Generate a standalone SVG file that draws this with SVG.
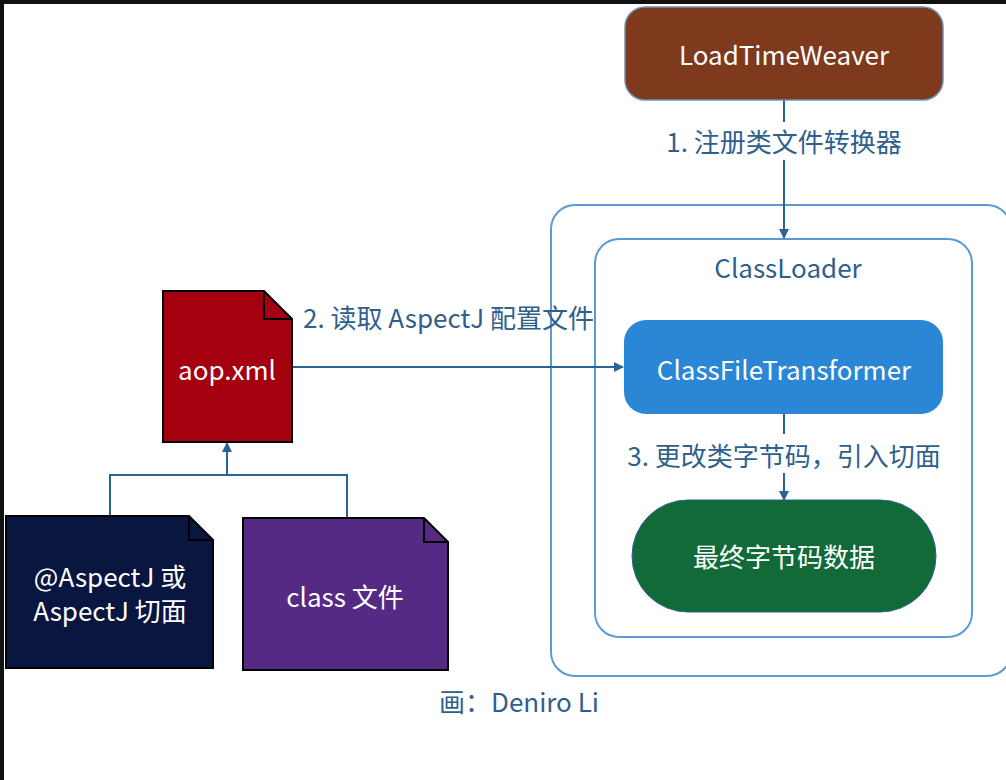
<svg xmlns="http://www.w3.org/2000/svg" width="1006" height="780" viewBox="0 0 1006 780">
<defs>
<marker id="ah" markerWidth="10" markerHeight="10" refX="9" refY="5" orient="auto" markerUnits="userSpaceOnUse">
<path d="M0,0 L10,5 L0,10 Z" fill="#2a6396"/>
</marker>
<style>
text{font-family:"Noto Sans CJK SC","Microsoft YaHei","Noto Sans",sans-serif;font-size:26px;}
.w{fill:#ffffff;text-anchor:middle;}
.lbl{fill:#2f5f8c;}
.c{text-anchor:middle;}
.box{stroke:#5b9bd5;stroke-width:2;fill:none;}
.con{stroke:#2a6396;stroke-width:2;fill:none;}
.doc{stroke:#000000;stroke-width:2;}
</style>
</defs>
<rect x="0" y="0" width="1006" height="780" fill="#ffffff"/>
<rect x="0" y="0" width="1006" height="4" fill="#111111"/>
<rect x="0" y="0" width="4" height="780" fill="#111111"/>

<g id="container">
<rect class="box" x="551" y="205" width="460" height="471" rx="24"/>
</g>
<g id="classloader">
<rect class="box" x="595" y="239" width="377" height="398" rx="24"/>
<text class="lbl c" x="788" y="278">ClassLoader</text>
</g>

<g id="connectors">
<line class="con" x1="784" y1="100" x2="784" y2="122"/>
<line class="con" x1="784" y1="160" x2="784" y2="238" marker-end="url(#ah)"/>
<line class="con" x1="292" y1="367" x2="623" y2="367" marker-end="url(#ah)"/>
<line class="con" x1="784" y1="414" x2="784" y2="434"/>
<line class="con" x1="784" y1="473" x2="784" y2="500" marker-end="url(#ah)"/>
<polyline class="con" points="110,516 110,475 347,475 347,518"/>
<line class="con" x1="227" y1="475" x2="227" y2="443" marker-end="url(#ah)"/>
</g>

<g id="ltw">
<rect x="625" y="7" width="318" height="93" rx="20" fill="#7f3a1d" stroke="#6b8fb5" stroke-width="1.5"/>
<text class="w" x="784" y="65">LoadTimeWeaver</text>
</g>
<g id="label1"><text class="lbl c" x="784" y="152">1. 注册类文件转换器</text></g>

<g id="cft">
<rect x="624" y="320" width="319" height="94" rx="22" fill="#2b86d6"/>
<text class="w" x="784" y="380">ClassFileTransformer</text>
</g>
<g id="label3"><text class="lbl c" x="784" y="466">3. 更改类字节码，引入切面</text></g>

<g id="final">
<rect x="632" y="500" width="304" height="112" rx="56" fill="#116a37" stroke="#2a6396" stroke-width="1"/>
<text class="w" x="784" y="567">最终字节码数据</text>
</g>

<g id="aop">
<path class="doc" d="M163,291 H264 L292,319 V442 H163 Z" fill="#a5000f"/>
<path class="doc" d="M264,291 V319 H292" fill="none"/>
<text class="w" x="227" y="380">aop.xml</text>
</g>
<g id="label2"><text class="lbl" x="303" y="328">2. 读取 AspectJ 配置文件</text></g>

<g id="aspectj">
<path class="doc" d="M6,516 H189 L213,540 V668 H6 Z" fill="#09163f"/>
<path class="doc" d="M189,516 V540 H213" fill="none"/>
<text class="w" x="110" y="587">@AspectJ 或</text>
<text class="w" x="110" y="621">AspectJ 切面</text>
</g>

<g id="classfile">
<path class="doc" d="M243,518 H424 L448,542 V670 H243 Z" fill="#552a84"/>
<path class="doc" d="M424,518 V542 H448" fill="none"/>
<text class="w" x="345" y="607">class 文件</text>
</g>

<g id="footer"><text class="lbl c" x="519" y="712">画：Deniro Li</text></g>
</svg>
